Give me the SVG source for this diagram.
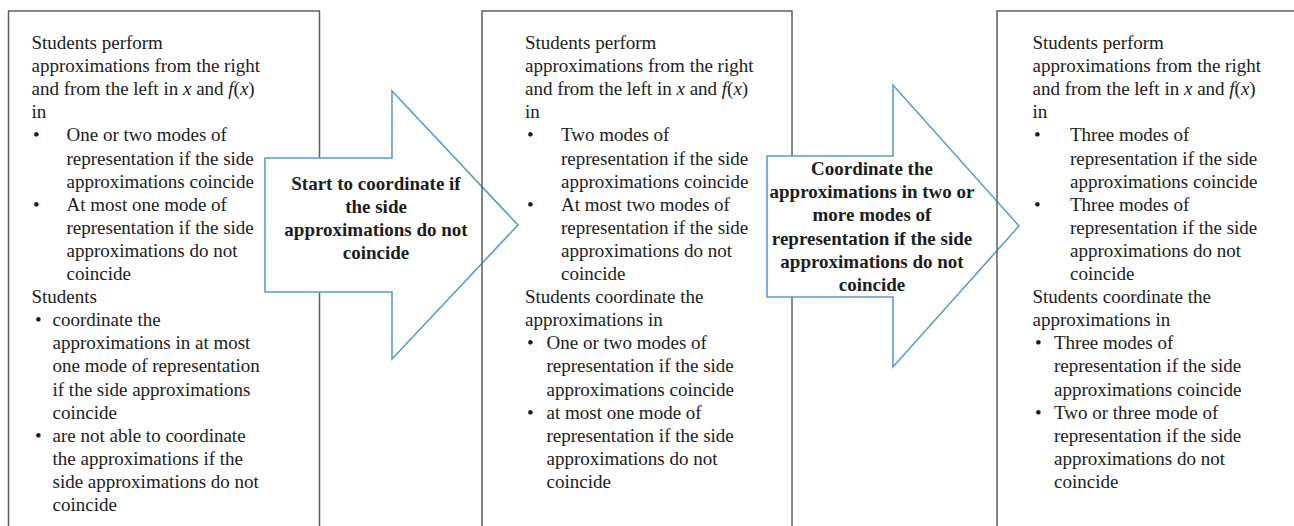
<svg xmlns="http://www.w3.org/2000/svg" width="1294" height="526" viewBox="0 0 1294 526">
<style>
.box{fill:#fff;stroke:#5f5f5f;stroke-width:1.5}
.boxo{fill:none;stroke:#5f5f5f;stroke-width:1.5}
.arr{fill:#fff;stroke:#5b9bd5;stroke-width:1.6;stroke-linejoin:miter}
text{font-family:"Liberation Serif","Times New Roman",serif;font-size:19px;fill:#1c1c1c}
.b{font-weight:bold;text-anchor:middle}
.i{font-style:italic}
</style>
<rect width="1294" height="526" fill="#fff"/>
<g id="stage1">
<rect class="box" x="8.5" y="11" width="311" height="540"/>
<text x="31.5" y="49">Students perform</text>
<text x="31.5" y="72.1">approximations from the right</text>
<text x="31.5" y="95.2">and from the left in <tspan class="i">x</tspan> and <tspan class="i">f</tspan>(<tspan class="i">x</tspan>)</text>
<text x="31.5" y="118.3">in</text>
<text x="33" y="141.4">•</text><text x="66.5" y="141.4">One or two modes of</text>
<text x="66.5" y="164.5">representation if the side</text>
<text x="66.5" y="187.6">approximations coincide</text>
<text x="33" y="210.7">•</text><text x="66.5" y="210.7">At most one mode of</text>
<text x="66.5" y="233.8">representation if the side</text>
<text x="66.5" y="256.9">approximations do not</text>
<text x="66.5" y="280">coincide</text>
<text x="31.5" y="303.1">Students</text>
<text x="35" y="326.2">•</text><text x="52.5" y="326.2">coordinate the</text>
<text x="52.5" y="349.3">approximations in at most</text>
<text x="52.5" y="372.4">one mode of representation</text>
<text x="52.5" y="395.5">if the side approximations</text>
<text x="52.5" y="418.6">coincide</text>
<text x="35" y="441.7">•</text><text x="52.5" y="441.7">are not able to coordinate</text>
<text x="52.5" y="464.8">the approximations if the</text>
<text x="52.5" y="487.9">side approximations do not</text>
<text x="52.5" y="511">coincide</text>
</g>
<g id="arrow1">
<polygon class="arr" points="265,158 392,158 392,91 518,225 392,359 392,292 265,292"/>
<text class="b" x="376" y="190">Start to coordinate if</text>
<text class="b" x="376" y="213">the side</text>
<text class="b" x="376" y="236">approximations do not</text>
<text class="b" x="376" y="259">coincide</text>
</g>
<g id="stage2">
<rect class="boxo" x="482" y="11" width="310" height="540"/>
<text x="525" y="49">Students perform</text>
<text x="525" y="72.1">approximations from the right</text>
<text x="525" y="95.2">and from the left in <tspan class="i">x</tspan> and <tspan class="i">f</tspan>(<tspan class="i">x</tspan>)</text>
<text x="525" y="118.3">in</text>
<text x="527" y="141.4">•</text><text x="561" y="141.4">Two modes of</text>
<text x="561" y="164.5">representation if the side</text>
<text x="561" y="187.6">approximations coincide</text>
<text x="527" y="210.7">•</text><text x="561" y="210.7">At most two modes of</text>
<text x="561" y="233.8">representation if the side</text>
<text x="561" y="256.9">approximations do not</text>
<text x="561" y="280">coincide</text>
<text x="525" y="303.1">Students coordinate the</text>
<text x="525" y="326.2">approximations in</text>
<text x="527" y="349.3">•</text><text x="546.5" y="349.3">One or two modes of</text>
<text x="546.5" y="372.4">representation if the side</text>
<text x="546.5" y="395.5">approximations coincide</text>
<text x="527" y="418.6">•</text><text x="546.5" y="418.6">at most one mode of</text>
<text x="546.5" y="441.7">representation if the side</text>
<text x="546.5" y="464.8">approximations do not</text>
<text x="546.5" y="487.9">coincide</text>
</g>
<g id="arrow2">
<polygon class="arr" points="767,156 893,156 893,85 1019,226 893,367 893,297 767,297"/>
<text class="b" x="872" y="175">Coordinate the</text>
<text class="b" x="872" y="198.2">approximations in two or</text>
<text class="b" x="872" y="221.4">more modes of</text>
<text class="b" x="872" y="244.6">representation if the side</text>
<text class="b" x="872" y="267.8">approximations do not</text>
<text class="b" x="872" y="291">coincide</text>
</g>
<g id="stage3">
<rect class="boxo" x="997" y="11" width="320" height="540"/>
<text x="1032.5" y="49">Students perform</text>
<text x="1032.5" y="72.1">approximations from the right</text>
<text x="1032.5" y="95.2">and from the left in <tspan class="i">x</tspan> and <tspan class="i">f</tspan>(<tspan class="i">x</tspan>)</text>
<text x="1032.5" y="118.3">in</text>
<text x="1034" y="141.4">•</text><text x="1070" y="141.4">Three modes of</text>
<text x="1070" y="164.5">representation if the side</text>
<text x="1070" y="187.6">approximations coincide</text>
<text x="1034" y="210.7">•</text><text x="1070" y="210.7">Three modes of</text>
<text x="1070" y="233.8">representation if the side</text>
<text x="1070" y="256.9">approximations do not</text>
<text x="1070" y="280">coincide</text>
<text x="1032.5" y="303.1">Students coordinate the</text>
<text x="1032.5" y="326.2">approximations in</text>
<text x="1035" y="349.3">•</text><text x="1054" y="349.3">Three modes of</text>
<text x="1054" y="372.4">representation if the side</text>
<text x="1054" y="395.5">approximations coincide</text>
<text x="1035" y="418.6">•</text><text x="1054" y="418.6">Two or three mode of</text>
<text x="1054" y="441.7">representation if the side</text>
<text x="1054" y="464.8">approximations do not</text>
<text x="1054" y="487.9">coincide</text>
</g>
<g id="connectors"></g>
</svg>
